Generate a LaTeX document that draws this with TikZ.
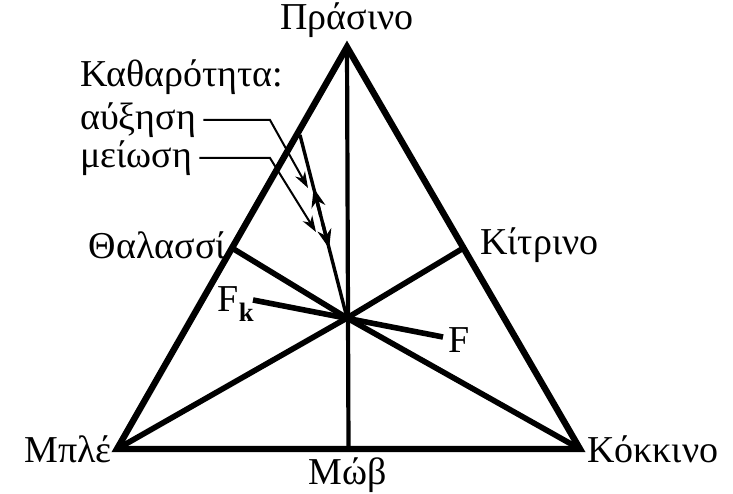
\documentclass[tikz,border=0pt]{standalone}
\usepackage{fontspec}
\setmainfont{Liberation Serif}
\usepackage{tikz}
\usetikzlibrary{arrows.meta, calc}

\begin{document}
\begin{tikzpicture}[x=1pt, y=-1pt, font=\fontsize{38}{42}\selectfont,
  triedge/.style={draw=black, line width=6.4pt, line join=miter},
  median/.style={draw=black, line width=5.6pt},
  midline/.style={draw=black, line width=4.2pt},
  pureline/.style={draw=black, line width=3.4pt},
  lead/.style={draw=black, line width=2pt},
  lbl/.style={inner sep=0pt}
]
  \useasboundingbox (0,0) rectangle (733,494);
  % ===== triangle corners =====
  \coordinate (G) at (347,47);    % green
  \coordinate (B) at (117,449);   % blue
  \coordinate (R) at (580,449);   % red
  \coordinate (C) at ($(G)!0.5!(B)$);
  \coordinate (Y) at ($(G)!0.5!(R)$);
  \coordinate (M) at ($(B)!0.5!(R)$);
  \coordinate (O) at (347,318);   % white point
  \draw[median] (B) -- (O) -- (Y);
  \draw[median] (R) -- (O) -- (C);
  \draw[midline] (G) -- (M);
  \draw[triedge] (G) -- (B) -- (R) -- cycle;
  % ===== dominant line F_k -- F =====
  \coordinate (Fk) at (253,300);
  \coordinate (F) at (443,337);
  \draw[median] (Fk) -- (F);
  % ===== purity line =====
  \coordinate (P) at (300,135);
  \draw[pureline] (O) -- (P);
  \draw[pureline, -{Stealth[length=19pt, width=14pt, inset=6pt]}] ($(O)!0.56!(P)$) -- ($(O)!0.71!(P)$);
  \draw[pureline, -{Stealth[length=19pt, width=14pt, inset=6pt]}] ($(O)!0.52!(P)$) -- ($(O)!0.38!(P)$);
  % ===== labels =====
  \node[lbl] (green) at (347,20) {Πράσινο};
  \node[lbl, anchor=west] (pur) at (80,77) {Καθαρότητα:};
  \node[lbl, anchor=west] (inc) at (80,120) {αύξηση};
  \node[lbl, anchor=west] (dec) at (80,158) {μείωση};
  \node[lbl, anchor=east] (cyan) at (226,245) {Θαλασσί};
  \node[lbl, anchor=west] (yel) at (480,245) {Κίτρινο};
  \node[lbl, anchor=east] (blue) at (112,449) {Μπλέ};
  \node[lbl, anchor=west] (red) at (587,449) {Κόκκινο};
  \node[lbl] (mauve) at (348,475) {Μώβ};
  \node[lbl] (fkl) at (236,304) {F$_{\mathbf{k}}$};
  \node[lbl] (fl) at (459,340) {F};
  % ===== leaders =====
  \coordinate (incb) at (270,120);
  \coordinate (inct) at (308,188);
  \coordinate (decb) at (270,158);
  \coordinate (dect) at (316,232);
  \draw[lead, -{Stealth[length=16pt, width=11pt, inset=5pt]}] ([xshift=7pt]inc.east) -- (incb) -- (inct);
  \draw[lead, -{Stealth[length=16pt, width=11pt, inset=5pt]}] ([xshift=7pt]dec.east) -- (decb) -- (dect);
\end{tikzpicture}
\end{document}
